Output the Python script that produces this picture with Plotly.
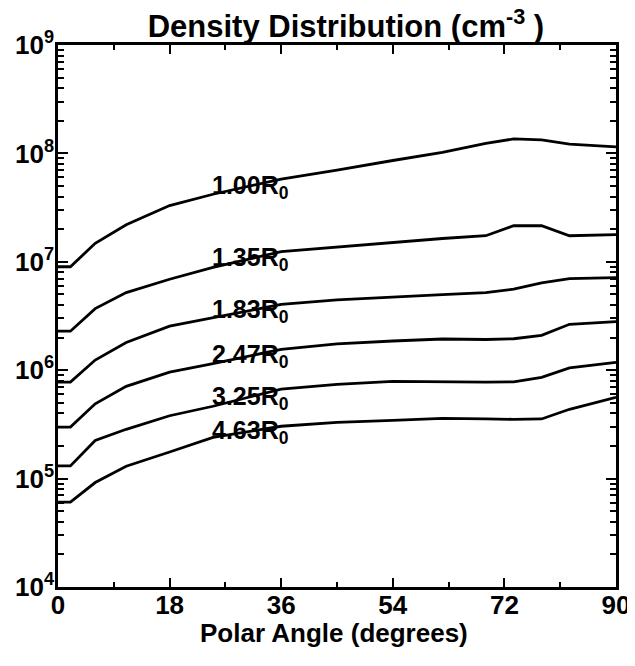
import numpy as np
import plotly.graph_objects as go

# Polar angle grid (degrees)
angles = [0, 2, 6, 11, 18, 25, 36, 45, 54, 62, 69, 73.5, 78, 82.5, 90]

# Density (cm^-3) at each radial distance
dens_100 = [9.0e6, 9.0e6, 1.48e7, 2.2e7, 3.3e7, 4.2e7, 5.8e7, 7.0e7, 8.6e7, 1.02e8, 1.24e8, 1.36e8, 1.33e8, 1.22e8, 1.15e8]
dens_135 = [2.29e6, 2.29e6, 3.7e6, 5.2e6, 6.9e6, 8.9e6, 1.24e7, 1.37e7, 1.51e7, 1.64e7, 1.74e7, 2.15e7, 2.15e7, 1.74e7, 1.78e7]
dens_183 = [7.77e5, 7.77e5, 1.24e6, 1.80e6, 2.55e6, 3.06e6, 4.04e6, 4.45e6, 4.75e6, 4.99e6, 5.2e6, 5.6e6, 6.4e6, 7.0e6, 7.16e6]
dens_247 = [2.99e5, 2.99e5, 4.9e5, 7.1e5, 9.6e5, 1.15e6, 1.56e6, 1.75e6, 1.86e6, 1.94e6, 1.92e6, 1.95e6, 2.1e6, 2.65e6, 2.81e6]
dens_325 = [1.31e5, 1.31e5, 2.25e5, 2.85e5, 3.8e5, 4.65e5, 6.7e5, 7.4e5, 7.89e5, 7.8e5, 7.75e5, 7.8e5, 8.6e5, 1.05e6, 1.18e6]
dens_463 = [6.07e4, 6.07e4, 9.2e4, 1.30e5, 1.76e5, 2.40e5, 3.04e5, 3.3e5, 3.45e5, 3.6e5, 3.55e5, 3.52e5, 3.55e5, 4.36e5, 5.62e5]

series = [dens_100, dens_135, dens_183, dens_247, dens_325, dens_463]
labels = ["1.00R<sub>0</sub>", "1.35R<sub>0</sub>", "1.83R<sub>0</sub>",
          "2.47R<sub>0</sub>", "3.25R<sub>0</sub>", "4.63R<sub>0</sub>"]

xticks = [0, 18, 36, 54, 72, 90]
ytick_exp = [4, 5, 6, 7, 8, 9]

FONT = "Liberation Sans"

fig = go.Figure()
for vals in series:
    fig.add_trace(go.Scatter(x=angles, y=vals, mode="lines",
                             line=dict(color="black", width=2.8),
                             showlegend=False, hoverinfo="skip"))

label_left = 24.5
label_mid = 30.5
for vals, lab in zip(series, labels):
    ly = float(np.interp(label_mid, angles, np.log10(vals)))
    fig.add_annotation(x=label_left, y=ly, xref="x", yref="y", text="<b>" + lab + "</b>",
                       showarrow=False, xanchor="left", yanchor="middle",
                       font=dict(family=FONT, size=25, color="black"))

# x-axis title
fig.add_annotation(x=0.495, y=0, xref="paper", yref="paper", yshift=-46,
                   text="<b>Polar Angle (degrees)</b>", showarrow=False,
                   xanchor="center", yanchor="middle",
                   font=dict(family=FONT, size=26, color="black"))

axis_common = dict(showline=True, linecolor="black", linewidth=2.5, mirror="allticks",
                   ticks="inside", tickcolor="black", tickwidth=2, showgrid=False,
                   zeroline=False, automargin=False,
                   tickfont=dict(family=FONT, size=26, color="black", weight="bold"))

fig.update_xaxes(range=[0, 90], tickvals=xticks, ticktext=[str(v) for v in xticks],
                 ticklen=9, ticklabelstandoff=-7,
                 minor=dict(ticks="inside", dtick=9, tick0=0, ticklen=5, tickcolor="black",
                            tickwidth=1.5, showgrid=False),
                 **axis_common)
fig.update_yaxes(type="log", range=[4, 9],
                 tickvals=[10 ** e for e in ytick_exp],
                 ticktext=["10<sup>%d</sup>" % e for e in ytick_exp],
                 ticklen=10, ticklabelstandoff=-4,
                 minor=dict(ticks="inside", dtick="D1", ticklen=6, tickcolor="black",
                            tickwidth=1.5, showgrid=False),
                 **axis_common)

fig.update_layout(
    width=627, height=658,
    margin=dict(l=50, r=19, t=37, b=79),
    paper_bgcolor="white", plot_bgcolor="white",
    title=dict(text="<b>Density Distribution (cm<sup>-3</sup> )</b>", x=0.539, xanchor="center",
               y=0.972, yanchor="middle",
               font=dict(family=FONT, size=31, color="black")),
)

fig.write_html("out.html")
